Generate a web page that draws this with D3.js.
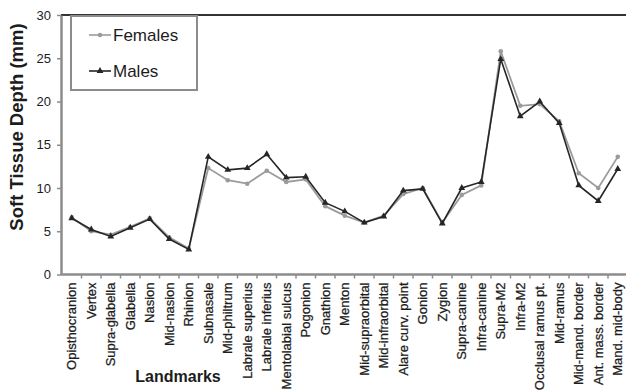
<!DOCTYPE html>
<html>
<head>
<meta charset="utf-8">
<script src="https://cdn.jsdelivr.net/npm/d3@7/dist/d3.min.js"></script>
<style>
  html, body { margin: 0; padding: 0; background: #fff; }
  svg { display: block; font-family: "Liberation Sans", Arial, sans-serif; }
</style>
</head>
<body>
<svg id="chart" width="626" height="392"></svg>
<script>
// Facial soft tissue depth by landmark, females vs males (mm)
const landmarks = [
  "Opisthocranion", "Vertex", "Supra-glabella", "Glabella", "Nasion",
  "Mid-nasion", "Rhinion", "Subnasale", "Mid-philtrum", "Labrale superius",
  "Labrale inferius", "Mentolabial sulcus", "Pogonion", "Gnathion", "Menton",
  "Mid-supraorbital", "Mid-infraorbital", "Alare curv. point", "Gonion", "Zygion",
  "Supra-canine", "Infra-canine", "Supra-M2", "Infra-M2", "Occlusal ramus pt.",
  "Mid-ramus", "Mid-mand. border", "Ant. mass. border", "Mand. mid-body"
];
const females = [6.6, 5.0, 4.6, 5.5, 6.5, 4.3, 3.0, 12.3, 10.9, 10.5, 12.0, 10.7, 11.0, 7.9, 6.8,
                 6.0, 6.8, 9.3, 10.0, 6.0, 9.2, 10.3, 25.8, 19.5, 19.7, 17.7, 11.7, 10.0, 13.6];
const males   = [6.5, 5.2, 4.4, 5.4, 6.4, 4.1, 2.9, 13.6, 12.1, 12.3, 13.9, 11.2, 11.3, 8.3, 7.3,
                 6.0, 6.7, 9.7, 9.9, 5.9, 10.0, 10.7, 24.9, 18.3, 20.0, 17.5, 10.3, 8.5, 12.2];
const yTicks = [0, 5, 10, 15, 20, 25, 30];
const seriesNames = ["Females", "Males"];

const svg = d3.select("#chart");

const x = d3.scaleBand().domain(landmarks).range([62, 627.5]).padding(0);
const y = d3.scaleLinear().domain([0, 30]).range([274.5, 15]);
const cx = d => x(d) + x.bandwidth() / 2;

const axisGray = "#8c8c8c";
const textColor = "#1c1c1c";
const femaleColor = "#9b9b9b";
const maleColor = "#262626";

// top frame line
svg.append("line")
  .attr("x1", 61).attr("x2", 626)
  .attr("y1", y(30)).attr("y2", y(30))
  .attr("stroke", "#333").attr("stroke-width", 2);

// y axis
const yAxis = svg.append("g")
  .attr("transform", "translate(61,0)")
  .call(d3.axisLeft(y).tickValues(yTicks).tickSize(4).tickPadding(6).tickSizeOuter(0));
yAxis.select(".domain").attr("stroke", axisGray).attr("stroke-width", 2.5);
yAxis.selectAll(".tick line").attr("stroke", axisGray).attr("stroke-width", 1.5);
yAxis.selectAll(".tick text")
  .attr("font-size", 13).attr("fill", textColor)
  .style("font-family", "'Liberation Sans', Arial, sans-serif");

// x axis: baseline, boundary ticks, rotated labels
const xAxisY = y(0);
svg.append("line")
  .attr("x1", 61).attr("x2", 626)
  .attr("y1", xAxisY).attr("y2", xAxisY)
  .attr("stroke", axisGray).attr("stroke-width", 2.5);
svg.append("g").selectAll("line")
  .data(landmarks)
  .join("line")
  .attr("x1", d => x(d) + x.bandwidth())
  .attr("x2", d => x(d) + x.bandwidth())
  .attr("y1", xAxisY).attr("y2", xAxisY + 4)
  .attr("stroke", axisGray).attr("stroke-width", 1.5);
svg.append("g").selectAll("text")
  .data(landmarks)
  .join("text")
  .attr("transform", d => `translate(${cx(d)},${xAxisY + 8}) rotate(-90)`)
  .attr("text-anchor", "end")
  .attr("dy", "0.35em")
  .attr("font-size", 13)
  .attr("fill", textColor)
  .attr("stroke", textColor).attr("stroke-width", 0.25)
  .text(d => d);

// axis titles
svg.append("text")
  .attr("transform", "translate(23,127) rotate(-90)")
  .attr("text-anchor", "middle")
  .attr("font-size", 18.5).attr("font-weight", "bold").attr("fill", textColor)
  .text("Soft Tissue Depth (mm)");
svg.append("text")
  .attr("x", 178).attr("y", 382)
  .attr("text-anchor", "middle")
  .attr("font-size", 16).attr("font-weight", "bold").attr("fill", textColor)
  .text("Landmarks");

// series lines and markers
const line = d3.line().x((d, i) => cx(landmarks[i])).y(d => y(d));

svg.append("path").datum(females)
  .attr("d", line).attr("fill", "none")
  .attr("stroke", femaleColor).attr("stroke-width", 1.8);
svg.append("g").selectAll("circle")
  .data(females)
  .join("circle")
  .attr("cx", (d, i) => cx(landmarks[i])).attr("cy", d => y(d))
  .attr("r", 2.3).attr("fill", femaleColor);

svg.append("path").datum(males)
  .attr("d", line).attr("fill", "none")
  .attr("stroke", maleColor).attr("stroke-width", 1.6);
const tri = d3.symbol(d3.symbolTriangle).size(20);
svg.append("g").selectAll("path")
  .data(males)
  .join("path")
  .attr("d", tri)
  .attr("transform", (d, i) => `translate(${cx(landmarks[i])},${y(d)})`)
  .attr("fill", maleColor);

// legend
const legend = svg.append("g");
legend.append("rect")
  .attr("x", 71).attr("y", 16).attr("width", 126).attr("height", 74)
  .attr("fill", "#fff").attr("stroke", axisGray).attr("stroke-width", 2);
const legendRows = [
  { name: seriesNames[0], color: femaleColor, ly: 35, marker: "circle" },
  { name: seriesNames[1], color: maleColor, ly: 71, marker: "triangle" }
];
legendRows.forEach(r => {
  legend.append("line")
    .attr("x1", 89).attr("x2", 111).attr("y1", r.ly).attr("y2", r.ly)
    .attr("stroke", r.color).attr("stroke-width", 1.6);
  if (r.marker === "circle") {
    legend.append("circle").attr("cx", 100).attr("cy", r.ly).attr("r", 2.3).attr("fill", r.color);
  } else {
    legend.append("path").attr("d", tri).attr("transform", `translate(100,${r.ly})`).attr("fill", r.color);
  }
  legend.append("text")
    .attr("x", 113).attr("y", r.ly + 6)
    .attr("font-size", 17).attr("fill", textColor)
    .text(r.name);
});
</script>
</body>
</html>
